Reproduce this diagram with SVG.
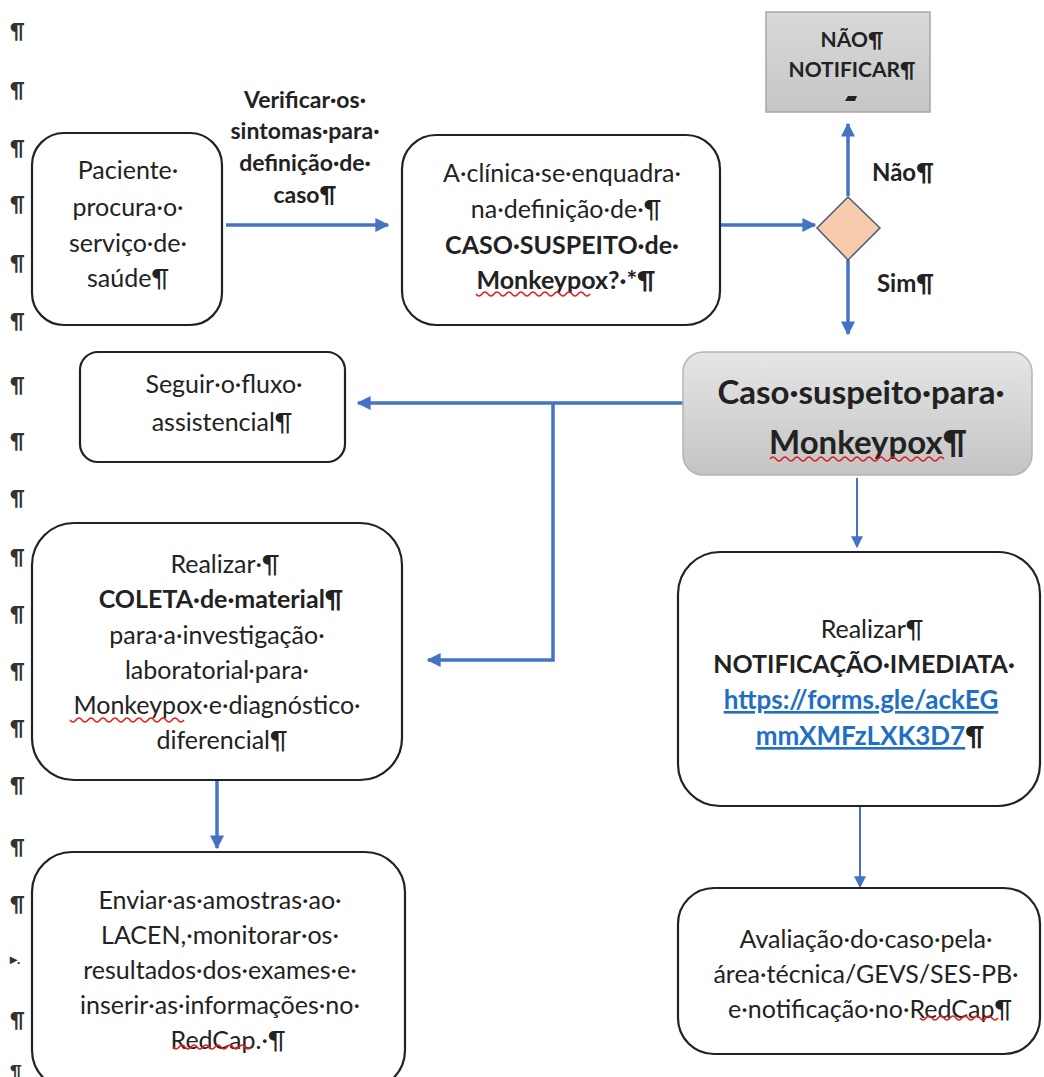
<svg xmlns="http://www.w3.org/2000/svg" width="1044" height="1077" viewBox="0 0 1044 1077">
<defs>
<style>
text{font-family:Lato,"Open Sans","Liberation Sans",sans-serif;fill:#222;}
.t{font-size:25px;text-anchor:middle;}
.b{font-weight:bold;}
.m{font-size:20px;font-weight:bold;fill:#333;}
.box{fill:#fff;stroke:#222;stroke-width:2.2;}
.c{fill:none;stroke:#4472C4;}
.w{stroke-width:3.5;}
.n{stroke-width:2;}
.sq{fill:none;stroke:#e02020;stroke-width:1.5;}
.lk{fill:#1F6FC5;text-decoration:underline;}
</style>
<linearGradient id="g1" x1="0" y1="0" x2="0" y2="1"><stop offset="0" stop-color="#e6e6e6"/><stop offset="1" stop-color="#c4c4c4"/></linearGradient>
<linearGradient id="g2" x1="0" y1="0" x2="0" y2="1"><stop offset="0" stop-color="#d9d9d9"/><stop offset="1" stop-color="#c6c6c6"/></linearGradient>
<marker id="ah" viewBox="0 0 10 10" refX="9" refY="5" markerWidth="4" markerHeight="4" orient="auto" markerUnits="strokeWidth"><path d="M0,0 L10,5 L0,10 z" fill="#4472C4"/></marker>
<marker id="ah2" viewBox="0 0 10 10" refX="9" refY="5" markerWidth="6" markerHeight="6" orient="auto" markerUnits="strokeWidth"><path d="M0,0 L10,5 L0,10 z" fill="#4472C4"/></marker>
</defs>
<rect width="1044" height="1077" fill="#fff"/>

<g id="margin">
<text class="m" x="10" y="38">¶</text>
<text class="m" x="10" y="97">¶</text>
<text class="m" x="10" y="155">¶</text>
<text class="m" x="10" y="211">¶</text>
<text class="m" x="10" y="270">¶</text>
<text class="m" x="10" y="328">¶</text>
<text class="m" x="10" y="392">¶</text>
<text class="m" x="10" y="448">¶</text>
<text class="m" x="10" y="505">¶</text>
<text class="m" x="10" y="564">¶</text>
<text class="m" x="10" y="621">¶</text>
<text class="m" x="10" y="678">¶</text>
<text class="m" x="10" y="735">¶</text>
<text class="m" x="10" y="792">¶</text>
<text class="m" x="10" y="854">¶</text>
<text class="m" x="10" y="911">¶</text>
<text x="10" y="964" style="font-size:14px;font-weight:bold;fill:#333">▸.</text>
<text class="m" x="10" y="1027">¶</text>
<text class="m" x="10" y="1076" style="font-size:16px">¶</text>
</g>

<g id="connectors">
<line class="c w" x1="226" y1="225" x2="388" y2="225" marker-end="url(#ah)"/>
<line class="c w" x1="720" y1="225" x2="815" y2="225" marker-end="url(#ah)"/>
<line class="c w" x1="848" y1="196" x2="848" y2="124" marker-end="url(#ah)"/>
<line class="c w" x1="848" y1="260" x2="848" y2="334" marker-end="url(#ah)"/>
<line class="c w" x1="683" y1="403" x2="358" y2="403" marker-end="url(#ah)"/>
<polyline class="c w" points="553,403 553,660 428,660" marker-end="url(#ah)"/>
<line class="c w" x1="217" y1="780" x2="217" y2="848" marker-end="url(#ah)"/>
<line class="c n" x1="857" y1="478" x2="857" y2="547" marker-end="url(#ah2)"/>
<line class="c n" x1="860" y1="806" x2="860" y2="887" marker-end="url(#ah2)"/>
</g>

<g id="label-verificar">
<text class="t b" x="305" y="108" style="font-size:23px">Verificar·os·</text>
<text class="t b" x="305" y="139" style="font-size:23px">sintomas·para·</text>
<text class="t b" x="305" y="171" style="font-size:23px">definição·de·</text>
<text class="t b" x="305" y="203" style="font-size:23px">caso¶</text>
</g>

<g id="paciente">
<rect class="box" x="32" y="133" width="190" height="192" rx="32"/>
<text class="t" x="128" y="179">Paciente·</text>
<text class="t" x="128" y="216">procura·o·</text>
<text class="t" x="128" y="252">serviço·de·</text>
<text class="t" x="128" y="287">saúde¶</text>
</g>

<g id="clinica">
<rect class="box" x="402" y="135" width="318" height="190" rx="34"/>
<text class="t" x="562" y="182">A·clínica·se·enquadra·</text>
<text class="t" x="566" y="218">na·definição·de·¶</text>
<text class="t b" x="562" y="254">CASO·SUSPEITO·de·</text>
<text class="t b" x="566" y="289">Monkeypox?·*¶</text>
<path class="sq" d="M476,294 q3,4 6,0 t6,0 t6,0 t6,0 t6,0 t6,0 t6,0 t6,0 t6,0 t6,0 t6,0 t6,0 t6,0 t6,0 t6,0 t6,0 t6,0 t6,0 t6,0"/>
</g>

<g id="decisao">
<polygon points="817,228 848,197 880,228 848,260" fill="#F8CBAD" stroke="#4a5a7a" stroke-width="1.5"/>
</g>
<g id="lbl-nao"><text class="b" x="872" y="181" style="font-size:24px">Não¶</text></g>
<g id="lbl-sim"><text class="b" x="877" y="292" style="font-size:24px">Sim¶</text></g>

<g id="nao-notificar">
<rect x="766" y="12" width="164" height="100" fill="url(#g2)" stroke="#a6a6a6" stroke-width="1.5"/>
<text class="t b" x="852" y="47" style="font-size:21px">NÃO¶</text>
<text class="t b" x="852" y="77" style="font-size:21px">NOTIFICAR¶</text>
<path d="M845,101 l3,-5 h9 l-2,5 z" fill="#222"/>
</g>

<g id="caso-suspeito">
<rect x="683" y="352" width="349" height="123" rx="20" fill="url(#g1)" stroke="#b5b5b5" stroke-width="1.5"/>
<text class="t b" x="861" y="404" style="font-size:33px">Caso·suspeito·para·</text>
<text class="t b" x="868" y="454" style="font-size:33px">Monkeypox¶</text>
<path class="sq" d="M770,459 q3,-4 6,0 t6,0 t6,0 t6,0 t6,0 t6,0 t6,0 t6,0 t6,0 t6,0 t6,0 t6,0 t6,0 t6,0 t6,0 t6,0 t6,0 t6,0 t6,0 t6,0 t6,0 t6,0 t6,0 t6,0 t6,0 t6,0 t6,0 t6,0 t6,0"/>
</g>

<g id="seguir">
<rect class="box" x="80" y="352" width="265" height="110" rx="18"/>
<text class="t" x="224" y="393">Seguir·o·fluxo·</text>
<text class="t" x="222" y="431">assistencial¶</text>
</g>

<g id="coleta">
<rect class="box" x="32" y="523" width="370" height="257" rx="42"/>
<text class="t" x="225" y="573">Realizar·¶</text>
<text class="t b" x="221" y="608">COLETA·de·material¶</text>
<text class="t" x="217" y="644">para·a·investigação·</text>
<text class="t" x="217" y="679">laboratorial·para·</text>
<text class="t" x="217" y="714">Monkeypox·e·diagnóstico·</text>
<text class="t" x="222" y="749">diferencial¶</text>
<path class="sq" d="M70,720 q3,4 6,0 t6,0 t6,0 t6,0 t6,0 t6,0 t6,0 t6,0 t6,0 t6,0 t6,0 t6,0 t6,0 t6,0 t6,0 t6,0 t6,0 t6,0 t6,0"/>
</g>

<g id="enviar">
<rect class="box" x="32" y="852" width="373" height="238" rx="40"/>
<text class="t" x="220" y="909">Enviar·as·amostras·ao·</text>
<text class="t" x="220" y="944">LACEN,·monitorar·os·</text>
<text class="t" x="220" y="979">resultados·dos·exames·e·</text>
<text class="t" x="220" y="1014">inserir·as·informações·no·</text>
<text class="t" x="228" y="1049">RedCap.·¶</text>
<path class="sq" d="M173,1047 q3,4 6,0 t6,0 t6,0 t6,0 t6,0 t6,0 t6,0 t6,0 t6,0 t6,0 t6,0 t6,0 t6,0"/>
</g>

<g id="notificacao">
<rect class="box" x="678" y="552" width="362" height="254" rx="42"/>
<text class="t" x="872" y="638">Realizar¶</text>
<text class="t b" x="864" y="673">NOTIFICAÇÃO·IMEDIATA·</text>
<text class="t b lk" x="861" y="709" style="font-size:26px">https://forms.gle/ackEG</text>
<text class="t b" x="870" y="745" style="font-size:26px"><tspan class="lk">mmXMFzLXK3D7</tspan><tspan>¶</tspan></text>
</g>

<g id="avaliacao">
<rect class="box" x="678" y="888" width="362" height="166" rx="36"/>
<text class="t" x="866" y="948">Avaliação·do·caso·pela·</text>
<text class="t" x="866" y="983">área·técnica/GEVS/SES-PB·</text>
<text class="t" x="870" y="1018">e·notificação·no·RedCap¶</text>
<path class="sq" d="M920,1018 q3,4 6,0 t6,0 t6,0 t6,0 t6,0 t6,0 t6,0 t6,0 t6,0 t6,0 t6,0 t6,0 t6,0"/>
</g>
</svg>
